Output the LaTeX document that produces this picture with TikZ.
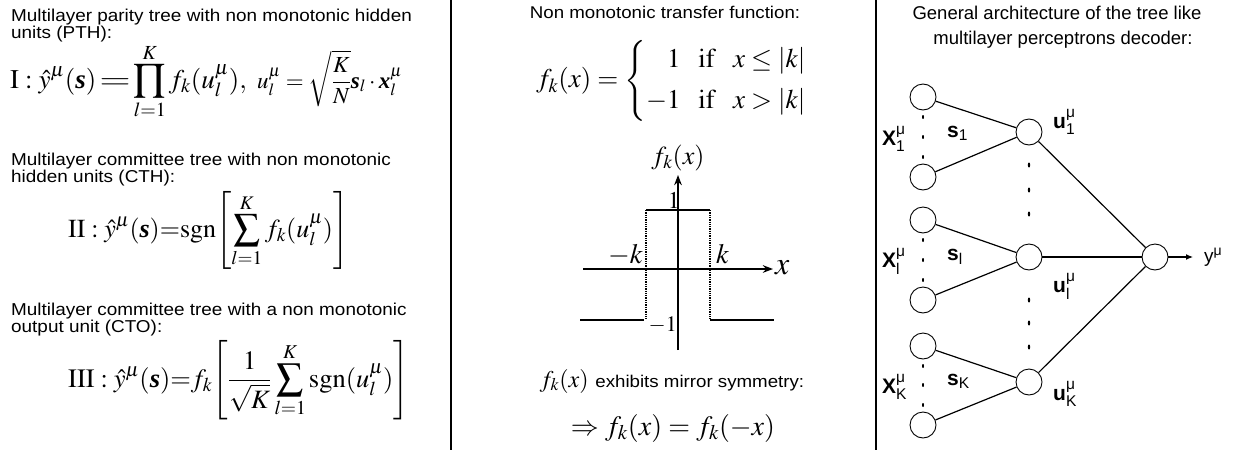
\documentclass[tikz,border=0pt]{standalone}
\usepackage{amsmath}
\usepackage{mathptmx}
\usepackage{graphicx}
\usepackage[no-math]{fontspec}
\setmainfont{Liberation Sans}
\newfontfamily\widesans{Liberation Sans}[FakeStretch=1.1]
\newfontfamily\midsans{Liberation Sans}[FakeStretch=1.1]
\newfontfamily\timesbf{Liberation Serif}
\usetikzlibrary{arrows.meta, calc}

% bold italic vectors in the formulas
\newcommand{\bvec}[1]{\text{\timesbf\bfseries\itshape #1}}
% wide equals sign of formula I
\newcommand{\weq}{{\scalebox{1.5}[1]{$=$}}}
% labels of the decoder tree
\newcommand{\nlab}[2]{$\textbf{#1}^{\textnormal{μ}}_{\textnormal{#2}}$}

\begin{document}
\begin{tikzpicture}[x=1pt, y=-1pt, >=Stealth,
    ltxt/.style={inner sep=0pt, align=left, anchor=north west, font=\widesans\fontsize{17.2}{15}\selectfont},
    mtxt/.style={inner sep=0pt, font=\midsans\fontsize{17}{17}\selectfont},
    rtxt/.style={inner sep=0pt, anchor=base, font=\fontsize{18.5}{18.5}\selectfont},
    frm/.style={inner sep=0pt, anchor=base west},
    glab/.style={inner sep=0pt, font=\fontsize{28}{28}\selectfont},
    unit/.style={draw, circle, minimum size=26pt, inner sep=0pt, line width=0.9pt},
    wire/.style={line width=1.2pt},
    netlab/.style={inner sep=0pt, anchor=base west, font=\fontsize{21}{21}\selectfont},
    sep/.style={line width=1.6pt}]
    \useasboundingbox (0,0) rectangle (1241,450);
    % panel borders
    \draw[sep] (451,0) -- (451,450);
    \draw[sep] (876,0) -- (876,450);

    % left panel: the three decoders
    \node[ltxt] (pth) at (11,9) {Multilayer parity tree with non monotonic hidden\\units (PTH):};
    \node[frm] (fI) at (10,88) {\fontsize{27}{28}\selectfont$\displaystyle \mathrm{I}\;{:}\;\hat{y}^{\mu}(\bvec{s})\,\weq\prod_{l=1}^{K} f_k(u_l^{\mu}),$\fontsize{23}{24}\selectfont$\displaystyle\;\; u_l^{\mu}=\sqrt{\frac{K}{N}}\bvec{s}_l\cdot\bvec{x}_l^{\mu}$};
    \node[ltxt] (cth) at (11,153) {Multilayer committee tree with non monotonic\\hidden units (CTH):};
    \node[frm] (fII) at (68,237) {\fontsize{26}{28}\selectfont$\displaystyle \mathrm{II}\;{:}\;\hat{y}^{\mu}(\bvec{s}){=}\mathrm{sgn}\!\left[\sum_{l=1}^{K} f_k(u_l^{\mu})\right]$};
    \node[ltxt] (cto) at (11,303) {Multilayer committee tree with a non monotonic\\output unit (CTO):};
    \node[frm] (fIII) at (68,387) {\fontsize{26.5}{28}\selectfont$\displaystyle \mathrm{III}\;{:}\;\hat{y}^{\mu}(\bvec{s}){=}f_k\!\left[\frac{1}{\sqrt{K}}\sum_{l=1}^{K}\mathrm{sgn}(u_l^{\mu})\right]$};

    % middle panel: transfer function
    \node[mtxt, anchor=base] (ttl) at (665,18) {Non monotonic transfer function:};
    \node[inner sep=0pt] (fk) at (685,81) {\fontsize{27}{28}\selectfont$\displaystyle f_k(x)=\begin{cases}\phantom{-}1\;\;\;\mathrm{if}\;\;\;x\le|k|\\[7pt] -1\;\;\;\mathrm{if}\;\;\;x>|k|\end{cases}$};
    \coordinate (ybot) at (678,350);
    \coordinate (ytop) at (678,175);
    \coordinate (xlft) at (583,269);
    \coordinate (xrgt) at (773,269);
    \draw[line width=1.6pt, ->] (ybot) -- (ytop);
    \draw[line width=1.6pt, ->] (xlft) -- (xrgt);
    \node[glab, font=\fontsize{26}{26}\selectfont] (fy) at (678,158) {$f_k(x)$};
    \node[glab, anchor=west, font=\fontsize{32}{32}\selectfont] (xl) at (775,268) {$x$};
    % step function
    \coordinate (a1) at (646,210);
    \coordinate (a2) at (710,210);
    \coordinate (b1) at (646,320);
    \coordinate (b2) at (710,320);
    \draw[line width=1.3pt] (a1) -- (a2);
    \draw[line width=1.3pt, densely dotted] (a1) -- (b1);
    \draw[line width=1.3pt, densely dotted] (a2) -- (b2);
    \draw[line width=1.3pt] (580,320) -- ($(b1)+(-2,0)$);
    \draw[line width=1.3pt] (b2) -- (774,320);
    \node[glab, anchor=base east] (mk) at (643,263) {$-k$};
    \node[glab, anchor=base west] (pk) at (716,263) {$k$};
    \node[glab, anchor=base east, font=\fontsize{24}{24}\selectfont] (one) at (680,208) {$1$};
    \node[glab, anchor=base east, font=\fontsize{22}{22}\selectfont] (mone) at (677,331) {$-1$};
    \node[inner sep=0pt, anchor=base] (mir) at (672,387) {\fontsize{24}{24}\selectfont$f_k(x)$ {\midsans\fontsize{17}{17}\selectfont exhibits mirror symmetry:}};
    \node[inner sep=0pt, anchor=base] (sym) at (673,435) {\fontsize{28}{28}\selectfont$\Rightarrow f_k(x)=f_k(-x)$};

    % right panel: tree like decoder
    \node[rtxt] (gen1) at (1057,19) {General architecture of the tree like};
    \node[rtxt] (gen2) at (1063,44) {multilayer perceptrons decoder:};
    \foreach \n/\y in {1/97, 2/177, 3/220, 4/300, 5/346, 6/425}
        \node[unit] (i\n) at (923,\y) {};
    \foreach \n/\y in {1/132, 2/257, 3/382}
        \node[unit] (h\n) at (1029,\y) {};
    \node[unit] (out) at (1155,257) {};
    \foreach \a/\b in {1/1, 2/1, 3/2, 4/2, 5/3, 6/3}
        \draw[wire] (i\a) -- (h\b);
    \foreach \b in {1,2,3}
        \draw[wire] (h\b) -- (out);
    \coordinate (yend) at (1193,257);
    \draw[wire, -{Latex[length=7pt, width=6pt]}] (out) -- (yend);
    \node[netlab, font=\fontsize{19}{19}\selectfont] (ylab) at (1204,262) {y$^{\textnormal{μ}}$};
    % dots
    \foreach \y in {117,137,157, 240,260,280, 366,385,405}
        \fill (923,\y) ellipse (1pt and 2pt);
    \foreach \y in {165,190,214, 300,323,347}
        \fill (1029,\y) ellipse (1.2pt and 2.5pt);
    % labels
    \node[netlab] (x1) at (882,145) {\nlab{X}{1}};
    \node[netlab] (xl) at (882,267) {\nlab{X}{l}};
    \node[netlab] (xk) at (882,393) {\nlab{X}{K}};
    \node[netlab] (s1) at (947,137) {$\textbf{s}_{\textnormal{1}}$};
    \node[netlab] (sl) at (947,260) {$\textbf{s}_{\textnormal{l}}$};
    \node[netlab] (sk) at (947,385) {$\textbf{s}_{\textnormal{K}}$};
    \node[netlab] (u1) at (1053,128) {\nlab{u}{1}};
    \node[netlab] (ul) at (1053,292) {\nlab{u}{l}};
    \node[netlab] (uk) at (1053,400) {\nlab{u}{K}};
\end{tikzpicture}
\end{document}
